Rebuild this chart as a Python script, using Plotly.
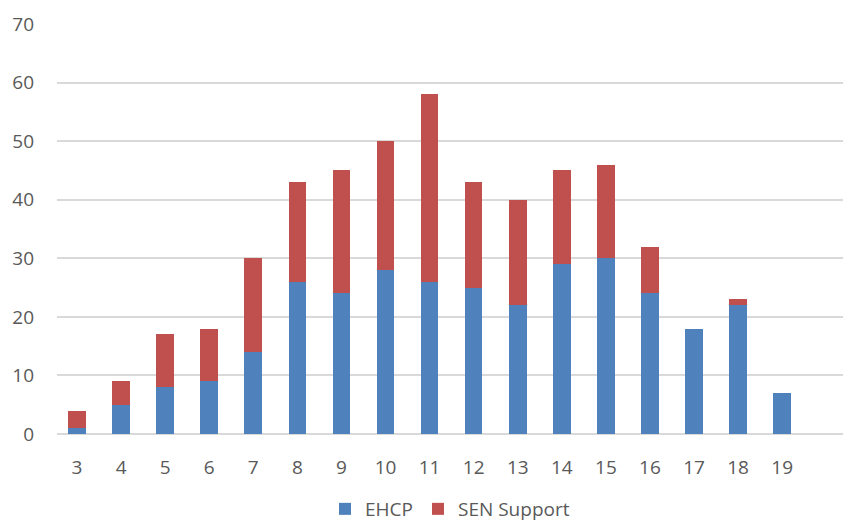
import plotly.graph_objects as go

ages = [3, 4, 5, 6, 7, 8, 9, 10, 11, 12, 13, 14, 15, 16, 17, 18, 19]
ehcp = [1, 5, 8, 9, 14, 26, 24, 28, 26, 25, 22, 29, 30, 24, 18, 22, 7]
sen_support = [3, 4, 9, 9, 16, 17, 21, 22, 32, 18, 18, 16, 16, 8, 0, 1, 0]
y_ticks = [0, 10, 20, 30, 40, 50, 60, 70]

font_family = "Open Sans, Liberation Sans, sans-serif"
text_color = "#595959"
font_size = 19

fig = go.Figure()
fig.add_trace(go.Bar(
    x=ages, y=ehcp, name="EHCP", width=0.4,
    marker=dict(color="#4F81BD", line=dict(width=0)),
))
fig.add_trace(go.Bar(
    x=ages, y=sen_support, name="SEN Support", width=0.4,
    marker=dict(color="#C0504D", line=dict(width=0)),
))

fig.update_layout(
    barmode="stack",
    width=845, height=528,
    margin=dict(l=57, r=2, t=24, b=94, autoexpand=False),
    paper_bgcolor="white",
    plot_bgcolor="white",
    font=dict(family=font_family, size=font_size, color=text_color),
    xaxis=dict(
        range=[2.546, 20.38],
        tickmode="array", tickvals=ages, ticktext=[str(a) for a in ages],
        showgrid=False, zeroline=False, showline=False,
        ticks="", ticklabelstandoff=20,
        tickfont=dict(size=font_size, color=text_color),
    ),
    yaxis=dict(
        range=[0, 70],
        tickmode="array", tickvals=y_ticks,
        showgrid=True, gridcolor="#D9D9D9", gridwidth=1.5,
        zeroline=True, zerolinecolor="#D9D9D9", zerolinewidth=1.5,
        showline=False, ticks="", ticklabelstandoff=22,
        tickfont=dict(size=font_size, color=text_color),
    ),
    legend=dict(
        orientation="h", x=0.5, xanchor="center",
        yref="container", y=0.0, yanchor="bottom",
        itemwidth=30,
        font=dict(size=font_size, color=text_color), traceorder="normal",
    ),
)

fig.write_html("out.html")
